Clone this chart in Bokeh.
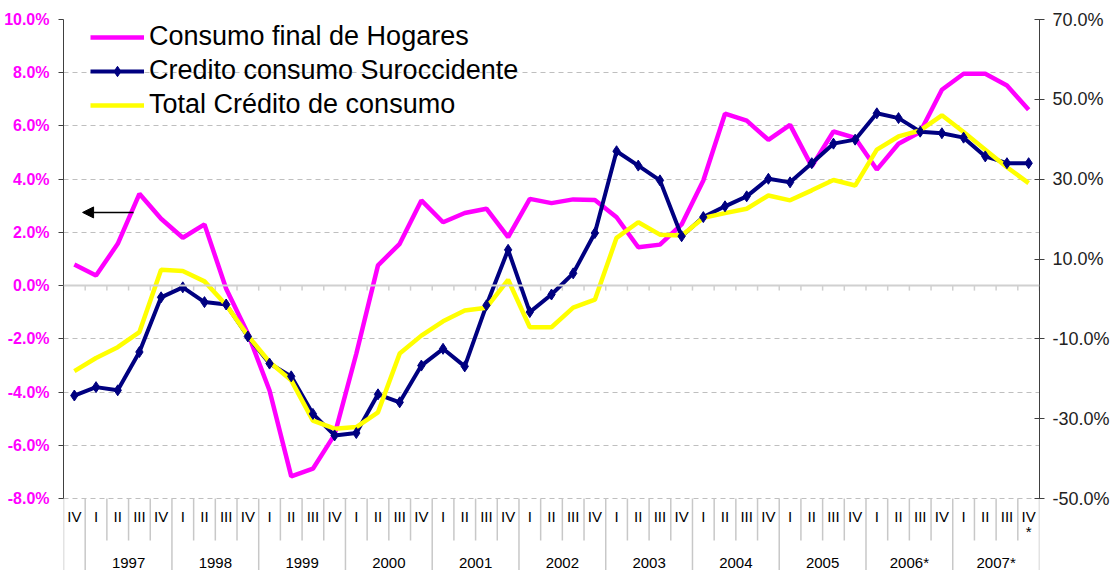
import numpy as np
from bokeh.plotting import figure
from bokeh.models import (Range1d, LinearAxis, FixedTicker, Span, Legend, LegendItem,
                          Arrow, NormalHead)
from bokeh.embed import file_html
from bokeh.resources import INLINE
from bokeh.core.properties import value

# ---------------- data ----------------
year_labels = ["1997", "1998", "1999", "2000", "2001", "2002", "2003", "2004", "2005", "2006*", "2007*"]
period_year = [""] + [y for y in year_labels for _ in range(4)]
quarter_labels = ["IV"] + ["I", "II", "III", "IV"] * len(year_labels)
quarter_labels[-1] = "IV\n*"

consumo_hogares = [0.79, 0.38, 1.57, 3.45, 2.51, 1.80, 2.30, -0.12, -1.8, -3.94,
                   -7.17, -6.88, -5.6, -2.56, 0.76, 1.57, 3.20, 2.38, 2.73, 2.89,
                   1.82, 3.26, 3.10, 3.24, 3.22, 2.57, 1.44, 1.54, 2.3, 3.95,
                   6.46, 6.20, 5.48, 6.04, 4.48, 5.79, 5.55, 4.36, 5.33, 5.77,
                   7.36, 7.96, 7.96, 7.52, 6.61]
credito_suroccidente = [-24.2, -22.1, -22.9, -13.3, 0.4, 2.9, -0.8, -1.4, -9.4, -16.2,
                        -19.4, -28.8, -34.2, -33.6, -23.9, -25.9, -16.7, -12.5, -16.9, -1.6,
                        12.3, -3.3, 1.1, 6.4, 16.5, 37.0, 33.4, 29.7, 15.7, 20.5,
                        23.2, 25.7, 30.1, 29.2, 34.0, 38.9, 39.9, 46.5, 45.3, 41.9,
                        41.5, 40.4, 35.7, 34.0, 34.0]
total_credito = [-18.1, -14.8, -12.1, -8.3, 7.3, 7.0, 4.4, -1.5, -9.2, -15.8,
                 -20.4, -30.5, -32.5, -32.1, -28.4, -13.7, -9.2, -5.6, -2.9, -2.2,
                 4.8, -7.1, -7.1, -2.2, -0.2, 15.3, 19.2, 16.1, 15.9, 20.3,
                 21.5, 22.6, 25.9, 24.7, 27.2, 29.8, 28.4, 37.4, 40.7, 42.2,
                 46.0, 41.8, 37.4, 33.0, 29.0]

left_ticks = [-8, -6, -4, -2, 0, 2, 4, 6, 8, 10]
right_ticks = [-50, -30, -10, 10, 30, 50, 70]

# ---------------- style / layout ----------------
FONT = "Liberation Sans"
MAGENTA = "#FF00FF"
NAVY = "#000080"
YELLOW = "#FFFF00"
GRID = "#BFBFBF"
SEP = "#C8C8C8"

W, H = 1115, 570
BORDER_L, BORDER_R, TOP = 63, 76, 19
PLOT_PX = 479            # height of the value area
LABEL_PX = H - TOP - PLOT_PX   # category label band below it

l_lo, l_hi = left_ticks[0], left_ticks[-1]
r_lo, r_hi = right_ticks[0], right_ticks[-1]
l_per_px = (l_hi - l_lo) / PLOT_PX
r_per_px = (r_hi - r_lo) / PLOT_PX


def band_y(px_below):
    """left-axis value located px_below pixels under the value area"""
    return l_lo - px_below * l_per_px


n = len(quarter_labels)
xs = np.arange(n) + 0.5
bounds = np.arange(n + 1)

p = figure(width=W, height=H, x_range=Range1d(0, n),
           y_range=Range1d(band_y(LABEL_PX), l_hi),
           output_backend="svg", toolbar_location=None, x_axis_type=None,
           min_border_left=BORDER_L, min_border_right=BORDER_R, min_border_top=TOP,
           min_border_bottom=0)
p.outline_line_color = None
p.background_fill_color = "white"
p.border_fill_color = "white"
p.xgrid.visible = False

# left axis
ya = p.yaxis[0]
ya.ticker = FixedTicker(ticks=left_ticks)
ya.bounds = (l_lo, l_hi)
ya.major_label_overrides = {t: f"{t:.1f}%" for t in left_ticks}
ya.major_label_text_font = FONT
ya.major_label_text_font_size = "16px"
ya.major_label_text_font_style = "bold"
ya.major_label_text_color = MAGENTA
ya.major_tick_in = 0
ya.major_tick_out = 5
ya.minor_tick_out = 0
ya.minor_tick_in = 0
ya.axis_line_color = "#404040"
ya.major_tick_line_color = "#404040"
ya.major_label_standoff = 9

p.ygrid.ticker = FixedTicker(ticks=left_ticks)
p.ygrid.grid_line_color = GRID
p.ygrid.grid_line_dash = "5 4"
p.ygrid.grid_line_width = 1

# right axis
p.extra_y_ranges = {"credit": Range1d(r_lo - LABEL_PX * r_per_px, r_hi)}
ra = LinearAxis(y_range_name="credit", ticker=FixedTicker(ticks=right_ticks), bounds=(r_lo, r_hi))
ra.major_label_overrides = {t: f"{t:.1f}%" for t in right_ticks}
ra.major_label_text_font = FONT
ra.major_label_text_font_size = "18px"
ra.major_label_text_color = "#222222"
ra.major_tick_in = 5
ra.major_tick_out = 5
ra.minor_tick_in = 0
ra.minor_tick_out = 0
ra.axis_line_color = "#404040"
ra.major_tick_line_color = "#404040"
ra.major_label_standoff = 8
p.add_layout(ra, "right")

# zero line (category axis crossing) with small ticks at category boundaries
p.add_layout(Span(location=0, dimension="width", line_color="#D0D0D0", line_width=2))
p.segment(x0=bounds, y0=np.zeros(n + 1), x1=bounds, y1=np.full(n + 1, -5 * l_per_px),
          line_color="#D0D0D0", line_width=1.5)

# series
r_mag = p.line(xs, consumo_hogares, line_color=MAGENTA, line_width=4.5)
r_navy = p.line(xs, credito_suroccidente, y_range_name="credit", line_color=NAVY, line_width=4)
r_yel = p.line(xs, total_credito, y_range_name="credit", line_color=YELLOW, line_width=4.5)
r_navy_pts = p.scatter(xs, credito_suroccidente, y_range_name="credit", marker="diamond",
                       size=11, fill_color=NAVY, line_color=NAVY)

# arrow pointing to the left axis for the Consumo series
p.add_layout(Arrow(end=NormalHead(size=11, fill_color="black", line_color="black"),
                   x_start=3.23, y_start=2.75, x_end=0.88, y_end=2.75,
                   line_color="black", line_width=1.5))

legend = Legend(items=[
    LegendItem(label="Consumo final de Hogares", renderers=[r_mag]),
    LegendItem(label="Credito consumo Suroccidente", renderers=[r_navy, r_navy_pts]),
    LegendItem(label="Total Crédito de consumo", renderers=[r_yel]),
])
legend.label_text_font = FONT
legend.label_text_font_size = "27px"
legend.label_text_color = "black"
legend.glyph_width = 54
legend.glyph_height = 26
legend.spacing = 3
legend.padding = 2
legend.margin = 0
legend.label_standoff = 5
legend.border_line_color = None
legend.background_fill_alpha = 0
legend.location = (27, H - TOP - 101)
p.add_layout(legend, "center")

# ---------------- two-level category labels ----------------
is_year_bound = [True] + [(i == n) or (period_year[i] != period_year[i - 1]) for i in range(1, n + 1)]
y_end = [band_y(LABEL_PX) if yb else band_y(42) for yb in is_year_bound]
p.segment(x0=bounds, y0=np.full(n + 1, l_lo), x1=bounds, y1=y_end, line_color=SEP, line_width=1.5)

p.text(x=xs, y=np.full(n, band_y(9)), text=quarter_labels, text_align="center", text_baseline="top",
       text_font=value(FONT), text_font_size="15px", text_color="black", text_line_height=0.9)

starts = [i for i in range(n) if is_year_bound[i]]
ends = starts[1:] + [n]
grp_x = [(s + e) / 2 for s, e in zip(starts, ends)]
grp_t = [period_year[s] for s in starts]
p.text(x=grp_x, y=np.full(len(grp_x), band_y(64)), text=grp_t, text_align="center",
       text_baseline="middle", text_font=value(FONT), text_font_size="15px", text_color="black")

open("out.html", "w").write(file_html(p, INLINE))
